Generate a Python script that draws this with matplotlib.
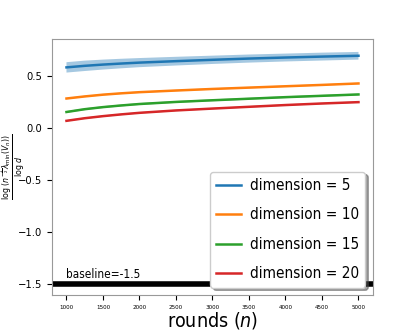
import numpy as np
import matplotlib
matplotlib.use('Agg')
from matplotlib import pyplot as plt

plt.rcParams['font.family'] = ['DejaVu Sans']
plt.rcParams['font.stretch'] = 'condensed'

rounds = [1000, 1250, 1500, 1750, 2000, 2500, 3000, 3500, 4000, 4500, 5000]
dims = [5, 10, 15, 20]
means = {
    5: [0.585, 0.600, 0.612, 0.622, 0.631, 0.645, 0.658, 0.670, 0.680, 0.689, 0.697],
    10: [0.285, 0.305, 0.322, 0.335, 0.346, 0.362, 0.377, 0.390, 0.403, 0.416, 0.430],
    15: [0.155, 0.182, 0.202, 0.218, 0.232, 0.252, 0.268, 0.283, 0.298, 0.311, 0.324],
    20: [0.070, 0.095, 0.115, 0.132, 0.147, 0.170, 0.188, 0.205, 0.222, 0.237, 0.250],
}
spread = {
    5: [0.050, 0.050, 0.048, 0.046, 0.044, 0.042, 0.040, 0.039, 0.038, 0.038, 0.037],
    10: [0.007] * 11,
    15: [0.009] * 11,
    20: [0.007] * 11,
}
baseline = -1.5

fig = plt.figure(figsize=(4.15, 3.32), dpi=100)
ax = fig.add_axes([0.125, 0.111, 0.774, 0.772])
for d in dims:
    m = np.array(means[d])
    s = np.array(spread[d])
    ax.plot(rounds, m, lw=1.8, label='dimension = {0}'.format(d))
    ax.fill_between(rounds, m - s, m + s, alpha=0.4)

ax.axhline(baseline, color='black', lw=4)
ax.text(1000, baseline + 0.025, 'baseline=-1.5', fontsize=8.5, va='bottom')

ax.set_xlim(800, 5200)
ax.set_ylim(-1.61, 0.86)
ax.set_xticks([1000, 1500, 2000, 2500, 3000, 3500, 4000, 4500, 5000])
ax.tick_params(axis='x', labelsize=4.5)
ax.tick_params(axis='y', labelsize=8)
ax.set_yticks([-1.5, -1.0, -0.5, 0.0, 0.5])
ax.set_yticklabels(['\u22121.5', '\u22121.0', '\u22120.5', '0.0', '0.5'])
for sp in ax.spines.values():
    sp.set_color('#999999')

ax.set_xlabel('rounds ($n$)', fontsize=14, labelpad=0)
ax.set_ylabel(r'$\frac{\log\,(n^{-\frac{1}{2}}\lambda_{\min}(V_n))}{\log\,d}$',
              fontsize=9, va='center')
ax.yaxis.set_label_coords(-0.12, 0.5)
ax.legend(loc='lower right', fontsize=11, shadow=True, handlelength=1.6,
          handletextpad=0.6, labelspacing=0.95)

fig.savefig('out.png', dpi=100)
